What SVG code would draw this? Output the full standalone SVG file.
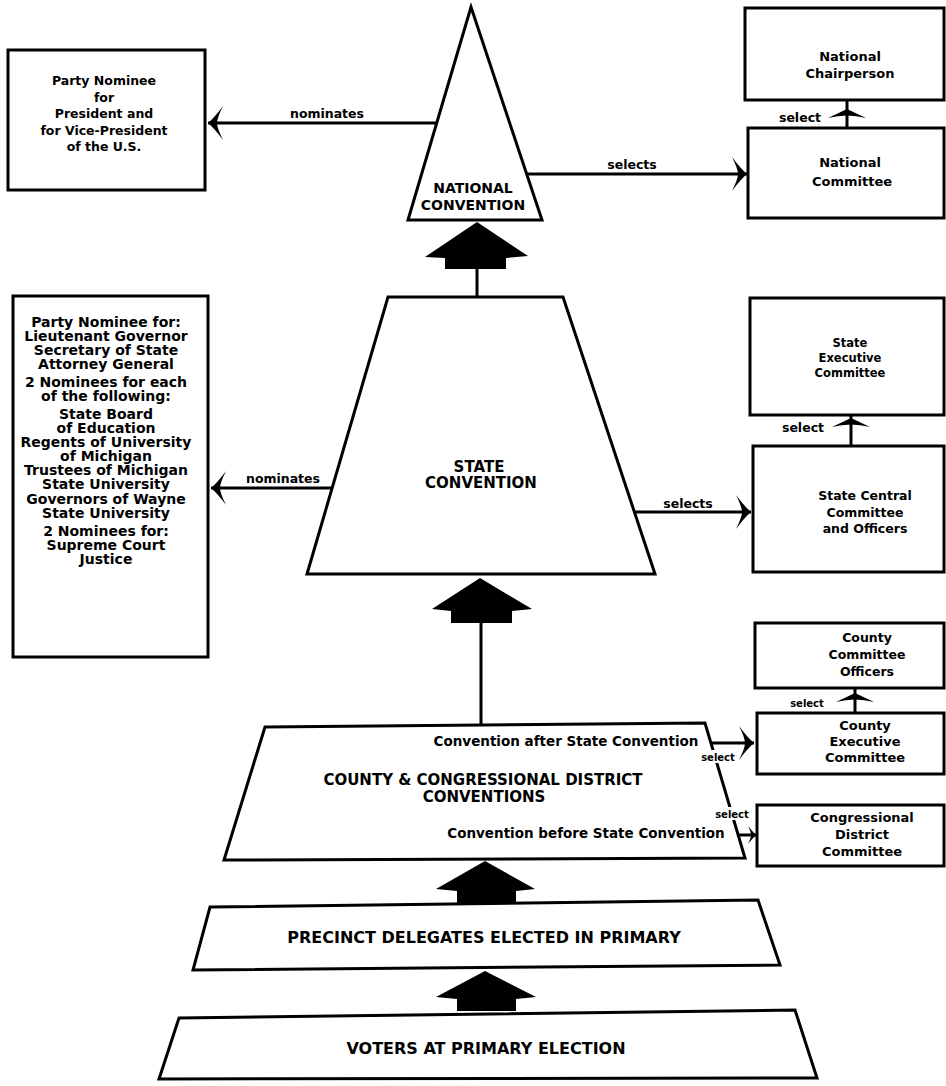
<svg xmlns="http://www.w3.org/2000/svg" width="946" height="1086" viewBox="0 0 946 1086">
<defs>
<style>
.box{fill:#fff;stroke:#000;stroke-width:3}
.shape{fill:#fff;stroke:#000;stroke-width:3;stroke-linejoin:miter}
.ln{stroke:#000;stroke-width:3;fill:none}
.blk{fill:#000}
text{font-family:"DejaVu Sans","Liberation Sans",sans-serif;font-weight:bold;fill:#000;text-anchor:middle}
.t14{font-size:14px}
.t12{font-size:12.5px}
.t13{font-size:13px}
.t11{font-size:11.5px}
.lab{font-size:12.5px}
.sm{font-size:10px}
.cap{font-size:16px}
</style>
<marker id="sweep" markerUnits="userSpaceOnUse" viewBox="-16 -18 17 36" refX="0" refY="0" markerWidth="17" markerHeight="36" orient="auto">
<path d="M0,0 Q-7,-6 -15,-17 Q-9,-5 -9,0 Q-9,5 -15,17 Q-7,6 0,0 Z" fill="#000"/>
</marker>
<marker id="sweepSm" markerUnits="userSpaceOnUse" viewBox="-10 -10 11 20" refX="0" refY="0" markerWidth="11" markerHeight="20" orient="auto">
<path d="M0,0 Q-4,-4 -8,-9 Q-5,-3 -5,0 Q-5,3 -8,9 Q-4,4 0,0 Z" fill="#000"/>
</marker>
<path id="roof" d="M0,0 L19,9 Q0,4 -19,9 Z" fill="#000"/>
</defs>
<rect width="946" height="1086" fill="#fff"/>

<g id="connectors">
<line class="ln" x1="437" y1="123" x2="208" y2="123" marker-end="url(#sweep)"/>
<line class="ln" x1="527" y1="174" x2="747" y2="174" marker-end="url(#sweep)"/>
<line class="ln" x1="333" y1="488" x2="211" y2="488" marker-end="url(#sweep)"/>
<line class="ln" x1="634" y1="512" x2="751" y2="512" marker-end="url(#sweep)"/>
<line class="ln" x1="711" y1="743" x2="754" y2="743" marker-end="url(#sweep)"/>
<line class="ln" x1="738" y1="835" x2="756" y2="835" marker-end="url(#sweepSm)"/>
<line class="ln" x1="847" y1="128" x2="847" y2="100"/>
<use href="#roof" x="847" y="109"/>
<line class="ln" x1="851" y1="446" x2="851" y2="415"/>
<use href="#roof" x="851" y="418"/>
<line class="ln" x1="855" y1="713" x2="855" y2="688"/>
<use href="#roof" x="855" y="693"/>
<line class="ln" x1="477" y1="268" x2="477" y2="297"/>
<line class="ln" x1="481" y1="622" x2="481" y2="724"/>
<path class="blk" d="M477,222 L528,256 L506,258 L506,269 L445,269 L445,258 L425,257 Z"/>
<path class="blk" d="M480,578 L532,609 L512,611 L512,623 L451,623 L451,611 L432,609 Z"/>
<path class="blk" d="M485,861 L535,889 L516,891 L516,903 L457,903 L457,891 L436,889 Z"/>
<path class="blk" d="M485,971 L536,997 L516,999 L516,1011 L457,1011 L457,999 L436,997 Z"/>
<text class="lab" x="327" y="118">nominates</text>
<text class="lab" x="632" y="169">selects</text>
<text class="lab" x="283" y="483">nominates</text>
<text class="lab" x="688" y="508">selects</text>
<text class="lab" x="800" y="122">select</text>
<text class="lab" x="803" y="432">select</text>
<text class="sm" x="807" y="707">select</text>
</g>

<g id="national-convention">
<polygon class="shape" points="471,7 542,220 408,220"/>
<text class="t14" x="473" y="193">NATIONAL</text>
<text class="t14" x="473" y="210">CONVENTION</text>
</g>

<g id="president-nominee">
<rect class="box" x="8" y="50" width="197" height="140"/>
<text class="t12" x="104" y="85">Party Nominee</text>
<text class="t12" x="104" y="102">for</text>
<text class="t12" x="104" y="118">President and</text>
<text class="t12" x="104" y="135">for Vice-President</text>
<text class="t12" x="104" y="151">of the U.S.</text>
</g>

<g id="national-chairperson">
<rect class="box" x="745" y="8" width="199" height="92"/>
<text class="t13" x="850" y="61">National</text>
<text class="t13" x="850" y="78">Chairperson</text>
</g>

<g id="national-committee">
<rect class="box" x="748" y="128" width="196" height="90"/>
<text class="t13" x="850" y="167">National</text>
<text class="t13" x="852" y="186">Committee</text>
</g>

<g id="state-convention">
<polygon class="shape" points="388,297 563,297 655,574 307,574"/>
<text x="479" y="472" style="font-size:15px">STATE</text>
<text x="481" y="488" style="font-size:15px">CONVENTION</text>
</g>

<g id="state-nominees">
<rect class="box" x="13" y="296" width="195" height="361"/>
<text class="t14" x="106" y="327">Party Nominee for:</text>
<text class="t14" x="106" y="341">Lieutenant Governor</text>
<text class="t14" x="106" y="355">Secretary of State</text>
<text class="t14" x="106" y="369">Attorney General</text>
<text class="t14" x="106" y="387">2 Nominees for each</text>
<text class="t14" x="106" y="401">of the following:</text>
<text class="t14" x="106" y="419">State Board</text>
<text class="t14" x="106" y="433">of Education</text>
<text class="t14" x="106" y="447">Regents of University</text>
<text class="t14" x="106" y="461">of Michigan</text>
<text class="t14" x="106" y="475">Trustees of Michigan</text>
<text class="t14" x="106" y="489">State University</text>
<text class="t14" x="106" y="504">Governors of Wayne</text>
<text class="t14" x="106" y="518">State University</text>
<text class="t14" x="106" y="536">2 Nominees for:</text>
<text class="t14" x="106" y="550">Supreme Court</text>
<text class="t14" x="106" y="564">Justice</text>
</g>

<g id="state-executive-committee">
<rect class="box" x="750" y="298" width="194" height="117"/>
<text class="t11" x="850" y="347">State</text>
<text class="t11" x="850" y="362">Executive</text>
<text class="t11" x="850" y="377">Committee</text>
</g>

<g id="state-central-committee">
<rect class="box" x="753" y="446" width="191" height="126"/>
<text class="t12" x="865" y="500">State Central</text>
<text class="t12" x="865" y="517">Committee</text>
<text class="t12" x="865" y="533">and Officers</text>
</g>

<g id="county-congressional-conventions">
<polygon class="shape" points="265,727 705,723 745,858 224,860"/>
<text x="566" y="746" style="font-size:13.5px">Convention after State Convention</text>
<text x="483" y="785" style="font-size:15px">COUNTY &amp; CONGRESSIONAL DISTRICT</text>
<text x="484" y="802" style="font-size:15px">CONVENTIONS</text>
<text x="586" y="838" style="font-size:13.5px">Convention before State Convention</text>
<rect x="702" y="750" width="32" height="13" fill="#fff"/>
<text class="sm" x="718" y="761">select</text>
<rect x="716" y="807" width="32" height="13" fill="#fff"/>
<text class="sm" x="732" y="818">select</text>
</g>

<g id="county-committee-officers">
<rect class="box" x="755" y="623" width="189" height="65"/>
<text class="t12" x="867" y="642">County</text>
<text class="t12" x="867" y="659">Committee</text>
<text class="t12" x="867" y="676">Officers</text>
</g>

<g id="county-executive-committee">
<rect class="box" x="757" y="713" width="187" height="61"/>
<text class="t13" x="865" y="730">County</text>
<text class="t13" x="865" y="746">Executive</text>
<text class="t13" x="865" y="762">Committee</text>
</g>

<g id="congressional-district-committee">
<rect class="box" x="757" y="805" width="187" height="61"/>
<text class="t13" x="862" y="822">Congressional</text>
<text class="t13" x="862" y="839">District</text>
<text class="t13" x="862" y="856">Committee</text>
</g>

<g id="precinct-delegates">
<polygon class="shape" points="210,907 758,900 780,965 193,970"/>
<text class="cap" x="484" y="943">PRECINCT DELEGATES ELECTED IN PRIMARY</text>
</g>

<g id="voters">
<polygon class="shape" points="179,1018 795,1010 817,1078 159,1079"/>
<text class="cap" x="486" y="1054">VOTERS AT PRIMARY ELECTION</text>
</g>
</svg>
